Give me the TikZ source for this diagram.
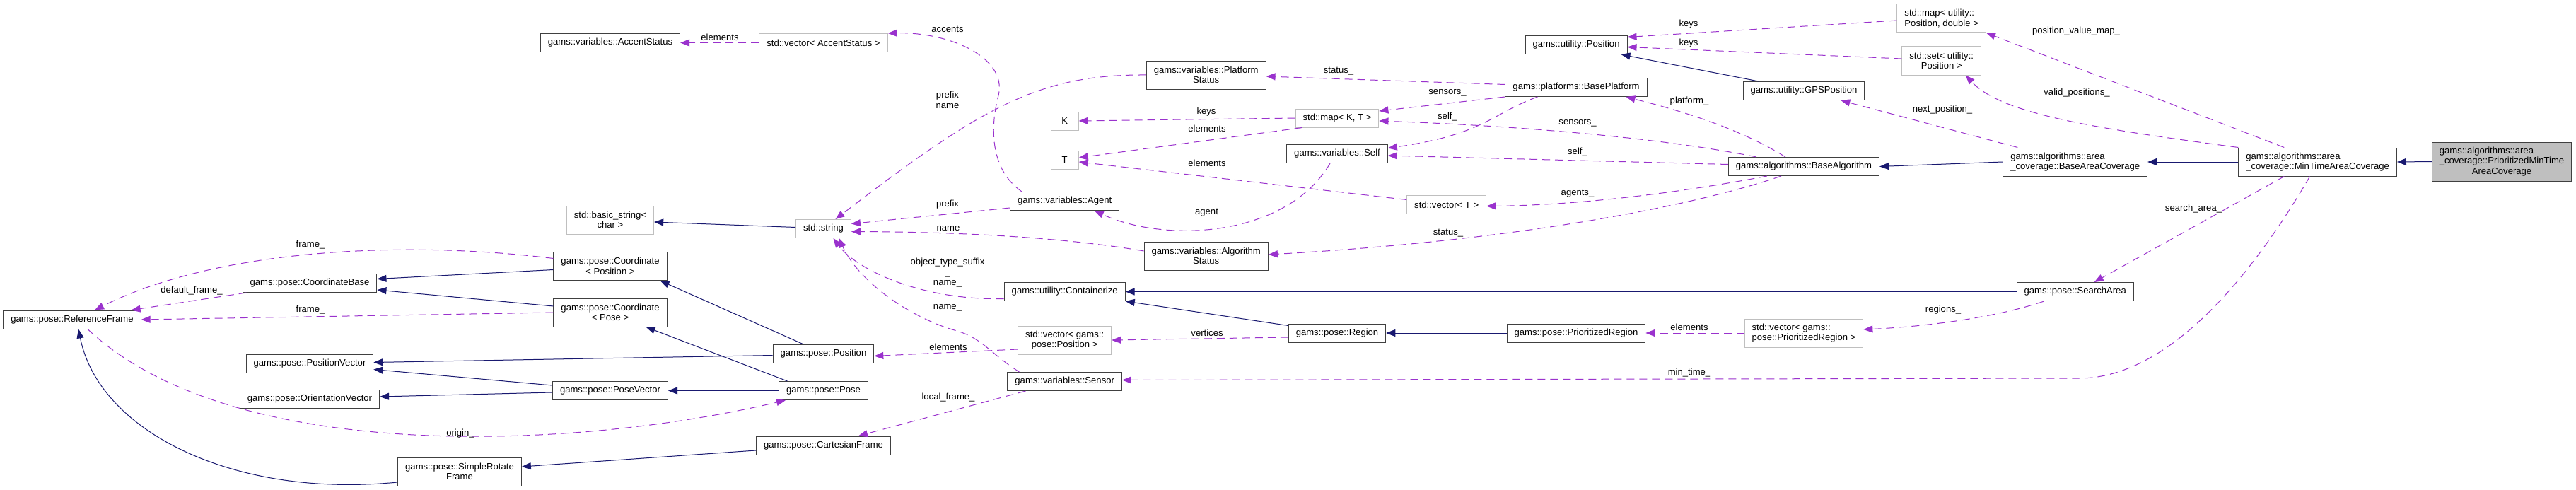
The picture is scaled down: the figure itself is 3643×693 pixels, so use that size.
\documentclass[tikz,border=0pt]{standalone}
\usepackage{fontspec}
\setmainfont{Liberation Sans}
\usetikzlibrary{arrows.meta}

\begin{document}
\begin{tikzpicture}[x=1pt, y=-1pt,
  cls/.style={draw=boxDark, fill=white, line width=1pt, inner xsep=10.5pt, inner ysep=5pt,
    minimum height=26pt, font=\fontsize{13.1}{14.5}\selectfont},
  ext/.style={cls, draw=boxGray},
  two/.style={minimum height=40pt},
  three/.style={minimum height=55pt},
  inh/.style={draw=inhBlue, line width=1pt, -{Triangle[length=13pt, width=10pt]}},
  use/.style={draw=usePurple, line width=1pt, dash pattern=on 11pt off 7pt,
    -{Triangle[length=13pt, width=10pt]}},
  lbl/.style={inner sep=0pt, align=center, font=\fontsize{13.1}{14.5}\selectfont}]

% Colori
\definecolor{inhBlue}{HTML}{191970}
\definecolor{usePurple}{HTML}{9A32CD}
\definecolor{boxDark}{HTML}{404040}
\definecolor{boxGray}{HTML}{BFBFBF}
\definecolor{curFill}{HTML}{BFBFBF}

% Sfondo e margini
\useasboundingbox (0,0) rectangle (3643,693);
\path[fill=white] (0,0) rectangle (3643,693);

% Classi
\node[cls] (rf) at (102,452) {gams::pose::ReferenceFrame};
\node[cls] (cb) at (438,400.5) {gams::pose::CoordinateBase};
\node[cls] (pv) at (438,514.5) {gams::pose::PositionVector};
\node[cls] (ov) at (438,564.5) {gams::pose::OrientationVector};
\node[cls, two, align=center] (srf) at (650,667) {gams::pose::SimpleRotate\\Frame};
\node[cls] (acc) at (863,60.5) {gams::variables::AccentStatus};
\node[ext, two, align=center] (bstr) at (863,311) {std::basic\_string<\\char >};
\node[cls, two, align=center] (cpos) at (863,376.5) {gams::pose::Coordinate\\< Position >};
\node[cls, two, align=center] (cpose) at (863,442) {gams::pose::Coordinate\\< Pose >};
\node[cls] (posevec) at (863,552.5) {gams::pose::PoseVector};
\node[ext] (vacc) at (1164.5,60.5) {std::vector< AccentStatus >};
\node[ext] (str) at (1164.5,323.5) {std::string};
\node[cls] (pos) at (1164.5,500.5) {gams::pose::Position};
\node[cls] (pose) at (1164.5,552.5) {gams::pose::Pose};
\node[cls] (cart) at (1164.5,630) {gams::pose::CartesianFrame};
\node[ext, minimum width=39pt] (k) at (1505.7,171) {K};
\node[ext, minimum width=39pt] (t) at (1505.7,226) {T};
\node[cls] (agent) at (1505.7,284.5) {gams::variables::Agent};
\node[cls] (cont) at (1505.7,412.5) {gams::utility::Containerize};
\node[ext, two, align=center] (vpos) at (1505.7,481) {std::vector< gams::\\pose::Position >};
\node[cls] (sensor) at (1505.7,539.5) {gams::variables::Sensor};
\node[cls, two, align=center] (ps) at (1705.7,106) {gams::variables::Platform\\Status};
\node[cls, two, align=center] (algst) at (1705.7,362) {gams::variables::Algorithm\\Status};
\node[ext] (mapkt) at (1891,167) {std::map< K, T >};
\node[cls] (self) at (1891,217.5) {gams::variables::Self};
\node[cls] (reg) at (1891,471) {gams::pose::Region};
\node[ext] (vt) at (2045.7,289.5) {std::vector< T >};
\node[cls] (upos) at (2229,63.5) {gams::utility::Position};
\node[cls] (bp) at (2229,123.5) {gams::platforms::BasePlatform};
\node[cls] (preg) at (2229,471) {gams::pose::PrioritizedRegion};
\node[cls] (gps) at (2551,128.5) {gams::utility::GPSPosition};
\node[cls] (balg) at (2551,235.5) {gams::algorithms::BaseAlgorithm};
\node[ext, two, align=left] (vpreg) at (2551,471) {std::vector< gams::\\pose::PrioritizedRegion >};
\node[ext, two, align=left] (mappd) at (2745.7,26) {std::map< utility::\\Position, double >};
\node[ext, two, align=center] (setp) at (2745.7,86) {std::set< utility::\\Position >};
\node[cls, two, align=left] (bac) at (2934.7,229) {gams::algorithms::area\\\_coverage::BaseAreaCoverage};
\node[cls] (sa) at (2934.7,412.5) {gams::pose::SearchArea};
\node[cls, two, align=left] (mt) at (3277.6,229) {gams::algorithms::area\\\_coverage::MinTimeAreaCoverage};
\node[cls, three, align=left, fill=curFill] (pmt) at (3538,228.5)
  {gams::algorithms::area\\\_coverage::PrioritizedMinTime\\\hspace*{\fill}AreaCoverage\hspace*{\fill}};

% Ereditarieta'
\draw[inh] ([yshift=-5pt]cpos.west) -- ([yshift=6pt]cb.east);
\draw[inh] ([yshift=9pt]cpose.west) -- ([yshift=-9.5pt]cb.east);
\draw[inh] ([yshift=-2pt]pos.west) -- ([yshift=2pt]pv.east);
\draw[inh] ([yshift=7.5pt]posevec.west) -- ([yshift=-8pt]pv.east);
\draw[inh] ([yshift=-2.5pt]posevec.west) -- ([yshift=3.5pt]ov.east);
\draw[inh] (pose.west) -- (posevec.east);
\draw[inh] ([xshift=-28pt]pos.north) -- ([xshift=-10pt]cpos.south east);
\draw[inh] ([xshift=-51pt]pose.north) -- ([xshift=-30pt]cpose.south east);
\draw[inh] ([yshift=-7pt]cart.west) -- ([yshift=7pt]srf.east);
\draw[inh] ([yshift=-15pt]srf.west) .. controls (330,705) and (140,610) .. ([xshift=9pt]rf.south);
\draw[inh] ([yshift=2pt]str.west) -- ([yshift=-3pt]bstr.east);
\draw[inh] ([xshift=-64pt]gps.north) -- ([xshift=-9pt]upos.south east);
\draw[inh] (bac.west) -- (balg.east);
\draw[inh] (mt.west) -- (bac.east);
\draw[inh] (pmt.west) -- (mt.east);
\draw[inh] (sa.west) -- (cont.east);
\draw[inh] ([yshift=-3pt]reg.north west) -- (cont.south east);
\draw[inh] (preg.west) -- (reg.east);

% Relazioni d'uso
\draw[use] ([xshift=6pt]cb.south west) -- ([xshift=-14pt]rf.north east);
\draw[use] ([yshift=11pt]cpos.west) .. controls (560,338) and (300,355) .. ([xshift=32pt]rf.north);
\draw[use] (cpose.west) -- (rf.east);
\draw[use] ([xshift=22pt]rf.south) .. controls (330,660) and (820,635) .. ([xshift=10pt]pose.south west);
\draw[use] (vacc.west) -- (acc.east);
\draw[use] ([xshift=17pt]agent.north west) .. controls (1400,240) and (1400,180) .. (1412,135)
  .. controls (1425,80) and (1340,45) .. (vacc.north east);
\draw[use] (ps.west) .. controls (1470,105) and (1390,150) .. ([xshift=17pt]str.north);
\draw[use] ([yshift=-9.5pt]agent.west) -- ([yshift=7pt]str.east);
\draw[use] ([yshift=7pt]algst.west) .. controls (1500,335) and (1350,328) .. ([yshift=-4pt]str.east);
\draw[use] ([yshift=-10pt]cont.west) .. controls (1300,425) and (1210,380) .. ([xshift=14pt]str.south);
\draw[use] ([xshift=17pt]sensor.north west) .. controls (1400,500) and (1390,478) .. (1350,467)
  .. controls (1290,450) and (1215,400) .. ([xshift=22pt]str.south);
\draw[use] ([yshift=-13pt]vpos.west) -- ([yshift=-3pt]pos.east);
\draw[use] ([xshift=26pt]sensor.south west) -- ([xshift=-46pt]cart.north east);
\draw[use] ([yshift=-6pt]reg.west) -- (vpos.east);
\draw[use] (mapkt.west) -- (k.east);
\draw[use] ([xshift=10pt]mapkt.south west) -- ([yshift=3pt]t.east);
\draw[use] ([yshift=7pt]vt.west) -- ([yshift=-3pt]t.east);
\draw[use] ([xshift=-10pt]self.south) .. controls (1820,335) and (1650,345) .. ([xshift=42pt]agent.south);
\draw[use] ([yshift=4pt]bp.west) -- ([yshift=-2pt]ps.east);
\draw[use] (bp.south west) -- ([yshift=10pt]mapkt.east);
\draw[use] ([xshift=46pt]bp.south west) .. controls (2110,160) and (2100,190) .. ([yshift=8pt]self.east);
\draw[use] ([xshift=40pt]balg.north west) .. controls (2350,195) and (2150,178) .. ([yshift=-4pt]mapkt.east);
\draw[use] ([yshift=3pt]balg.west) -- ([yshift=-2.5pt]self.east);
\draw[use] ([xshift=55pt]balg.south west) .. controls (2400,268) and (2250,290) .. ([yshift=-2pt]vt.east);
\draw[use] ([xshift=75pt]balg.south west) .. controls (2400,290) and (2150,340) .. ([yshift=2pt]algst.east);
\draw[use] ([xshift=81pt]balg.north west) .. controls (2450,175) and (2350,150) .. ([xshift=-30pt]bp.south east);
\draw[use] ([yshift=-3pt]mappd.west) -- ([yshift=11pt]upos.east);
\draw[use] ([yshift=3pt]setp.west) -- ([yshift=-3pt]upos.east);
\draw[use] ([xshift=21pt]bac.north west) -- ([xshift=-34pt]gps.south east);
\draw[use] ([xshift=65pt]mt.north west) -- (mappd.south east);
\draw[use] (mt.north west) .. controls (2950,180) and (2830,160) .. ([xshift=34pt]setp.south);
\draw[use] ([xshift=65pt]mt.south west) -- ([xshift=27pt]sa.north);
\draw[use] ([xshift=-11pt]mt.south) .. controls (3176,405) and (3060,535) .. (2940,535)
  -- ([yshift=2pt]sensor.east);
\draw[use] ([xshift=39pt]sa.south west) .. controls (2820,450) and (2720,462) .. ([yshift=5pt]vpreg.east);
\draw[use] (vpreg.west) -- (preg.east);

% Etichette
\node[lbl] (lFrameA) at (439,346) {frame\_};
\node[lbl] (lDefFrame) at (271,411) {default\_frame\_};
\node[lbl] (lFrameB) at (439,438) {frame\_};
\node[lbl] (lOrigin) at (651,613) {origin\_};
\node[lbl] (lElemAcc) at (1018,53) {elements};
\node[lbl] (lAccents) at (1340,41) {accents};
\node[lbl] (lPrefName) at (1340,141.5) {prefix\\name};
\node[lbl] (lPrefix) at (1340,289) {prefix};
\node[lbl] (lName) at (1341,323) {name};
\node[lbl] (lObjType) at (1340,386) {object\_type\_suffix\\\_\\name\_};
\node[lbl] (lNameS) at (1340,435) {name\_};
\node[lbl] (lElemPos) at (1341,491) {elements};
\node[lbl] (lLocal) at (1341,562) {local\_frame\_};
\node[lbl] (lKeysK) at (1706,158) {keys};
\node[lbl] (lElemT1) at (1707,182) {elements};
\node[lbl] (lElemT2) at (1707,231) {elements};
\node[lbl] (lAgent) at (1706.5,301) {agent};
\node[lbl] (lVert) at (1707,471) {vertices};
\node[lbl] (lStatusP) at (1893,101) {status\_};
\node[lbl] (lSensA) at (2047,131) {sensors\_};
\node[lbl] (lSelfA) at (2047,165) {self\_};
\node[lbl] (lStatusA) at (2048,330) {status\_};
\node[lbl] (lSensB) at (2231,174) {sensors\_};
\node[lbl] (lSelfB) at (2231,215) {self\_};
\node[lbl] (lAgents) at (2231,274) {agents\_};
\node[lbl] (lKeysA) at (2388,34) {keys};
\node[lbl] (lKeysB) at (2388,61) {keys};
\node[lbl] (lPlat) at (2389,143) {platform\_};
\node[lbl] (lElemPR) at (2389,463) {elements};
\node[lbl] (lMinTime) at (2389,527) {min\_time\_};
\node[lbl] (lNext) at (2747,155) {next\_position\_};
\node[lbl] (lRegions) at (2748,438) {regions\_};
\node[lbl] (lPosVal) at (2936,44) {position\_value\_map\_};
\node[lbl] (lValid) at (2937,131) {valid\_positions\_};
\node[lbl] (lSearch) at (3102,295) {search\_area\_};

\end{tikzpicture}
\end{document}
